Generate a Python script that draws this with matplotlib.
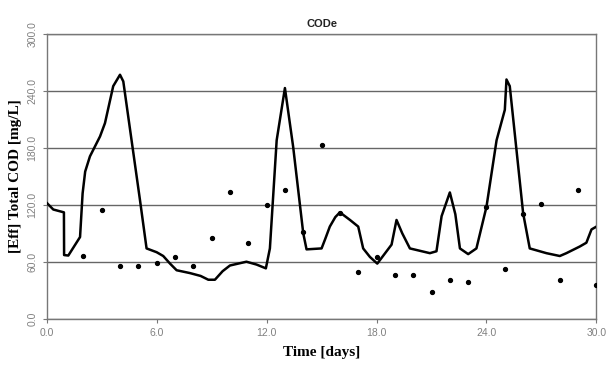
'''Effluent total COD: simulated curve vs measured points'''

import matplotlib
matplotlib.use("Agg")
import matplotlib.pyplot as plt
import matplotlib.ticker as mticker

# simulated effluent COD (line)
sim_days = [0.0, 0.36, 0.94, 0.95, 1.18, 1.82, 1.96, 2.1, 2.36, 2.91, 3.18, 3.63, 4.0, 4.18,
            5.09, 5.45, 6.0, 6.36, 6.73, 7.09, 7.82, 8.4, 8.82, 9.18, 9.6, 10.0, 10.9, 11.45, 11.96,
            12.18, 12.55, 13.0, 13.45, 14.0, 14.18, 15.0, 15.2, 15.45, 15.75, 16.0, 16.55, 17.0, 17.27,
            17.64, 18.04, 18.82, 19.09, 19.4, 19.82, 20.91, 21.27, 21.55, 22.0, 22.3, 22.55, 23.0, 23.45,
            24.0, 24.55, 25.0, 25.09, 25.27, 26.0, 26.36, 27.27, 28.0, 28.36, 29.09, 29.45,
            29.73, 30.0]
sim_cod = [122, 115, 112, 67, 66.5, 86, 132, 155, 171, 192, 206, 245, 257, 250,
           125, 74, 70, 66, 58, 51, 48, 45, 41, 41, 50, 56, 60, 57, 53,
           74, 188, 243, 181, 90, 73, 74, 84, 97, 107, 112, 104, 97, 74,
           65, 58, 78, 104, 90, 74, 69, 71, 108, 133, 110, 74, 68, 74,
           118, 188, 220, 252, 245, 111, 74, 69, 66, 69, 76, 80,
           94, 97]

# measured effluent COD (dots)
obs_days = [2, 3, 4, 5, 6, 7, 8, 9, 10, 11, 12, 13, 14, 15, 16, 17, 18, 19, 20,
            21, 22, 23, 24, 25, 26, 27, 28, 29, 30]
obs_cod = [66, 115, 55, 56, 59, 65, 55, 85, 133, 80, 120, 136, 91, 183, 111, 49, 65,
           46, 46, 28, 41, 39, 118, 52, 110, 121, 41, 136, 35]

fig = plt.figure(figsize=(6.08, 3.65), dpi=100)
ax = fig.add_axes([0.0768, 0.127, 0.9042, 0.78])

ax.plot(sim_days, sim_cod, color='black', linewidth=1.8, zorder=3)
ax.plot(obs_days, obs_cod, linestyle='none', marker='o', markersize=2.8,
        color='black', zorder=4)

ax.set_xlim(0, 30)
ax.set_ylim(0, 300)
ax.xaxis.set_major_locator(mticker.MultipleLocator(6))
ax.yaxis.set_major_locator(mticker.MultipleLocator(60))
ax.xaxis.set_major_formatter(mticker.FormatStrFormatter('%.1f'))
ax.yaxis.set_major_formatter(mticker.FormatStrFormatter('%.1f'))

ax.grid(axis='y', color='#666666', linewidth=1.0)
ax.set_axisbelow(True)
for side in ['left', 'bottom', 'right', 'top']:
    ax.spines[side].set_color('#777777')
    ax.spines[side].set_linewidth(1.0)

ax.tick_params(axis='both', colors='#777777', labelcolor='#808080', length=3,
               labelsize=7.5)
for lab in ax.get_xticklabels() + ax.get_yticklabels():
    lab.set_family('Liberation Sans')
for lab in ax.get_yticklabels():
    lab.set_rotation(90)
    lab.set_verticalalignment('center')

ax.set_title("CODe", fontsize=8, fontweight='bold', family='Liberation Sans',
             color='#222222', pad=5)
ax.set_xlabel("Time [days]", fontsize=11, fontweight='bold', family='Liberation Serif',
              labelpad=6)
ax.set_ylabel("[Eff] Total COD [mg/L]", fontsize=11, fontweight='bold',
              family='Liberation Serif', labelpad=4)

fig.savefig("out.png", dpi=100)
